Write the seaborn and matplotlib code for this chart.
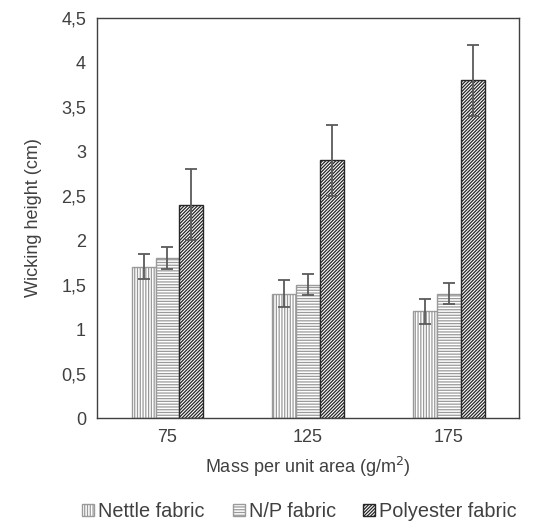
import pandas as pd
import matplotlib.pyplot as plt
import seaborn as sns

# datos
masses = ["75", "125", "175"]
fabrics = ["Nettle fabric", "N/P fabric", "Polyester fabric"]
nettle = [1.7, 1.4, 1.2]
np_fabric = [1.8, 1.5, 1.4]
polyester = [2.4, 2.9, 3.8]
nettle_err = [0.14, 0.15, 0.14]
np_err = [0.12, 0.12, 0.12]
polyester_err = [0.4, 0.4, 0.4]

values = [nettle, np_fabric, polyester]
errors = [nettle_err, np_err, polyester_err]
hatches = ["||||||", "------", "//////////"]
edges = ["#9a9a9a", "#9a9a9a", "#262626"]

df = pd.DataFrame({
    "mass": masses * 3,
    "fabric": [f for f in fabrics for _ in masses],
    "height": nettle + np_fabric + polyester,
})

sns.set_theme(style="white")
plt.rcParams["font.family"] = ["Liberation Sans", "DejaVu Sans"]
plt.rcParams["hatch.linewidth"] = 0.9
text_col = "#404040"

fig, ax = plt.subplots(figsize=(5.34, 5.24), dpi=100)
sns.barplot(data=df, x="mass", y="height", hue="fabric", order=masses,
            hue_order=fabrics, palette=["white"] * 3, width=0.51,
            errorbar=None, legend=False, ax=ax)

for cont, h, ec, err in zip(ax.containers, hatches, edges, errors):
    xs, ys = [], []
    for bar in cont:
        bar.set_hatch(h)
        bar.set_edgecolor(ec)
        bar.set_linewidth(1.0)
        xs.append(bar.get_x() + bar.get_width() / 2)
        ys.append(bar.get_height())
    ax.errorbar(xs, ys, yerr=err, fmt="none", ecolor="#5a5a5a",
                elinewidth=1.3, capsize=4.5, capthick=1.3, zorder=5)

ax.set_ylim(0, 4.5)
ax.set_xlim(-0.5, 2.5)
ticks = [i * 0.5 for i in range(10)]
ax.set_yticks(ticks)
ax.set_yticklabels([f"{t:g}".replace(".", ",") for t in ticks])
ax.tick_params(axis="both", length=0, labelsize=13, labelcolor=text_col, pad=8)
ax.set_xlabel("Mass per unit area (g/m$^2$)", fontsize=13, color=text_col, labelpad=6)
ax.set_ylabel("Wicking height (cm)", fontsize=13, color=text_col, labelpad=14)
for s in ax.spines.values():
    s.set_color("#404040")
    s.set_linewidth(1.0)

handles = list(ax.containers)
leg = ax.legend([c[0] for c in handles], fabrics, loc="upper center",
                bbox_to_anchor=(0.48, -0.165), ncol=3, frameon=False,
                fontsize=14.3, handlelength=0.6, handleheight=0.6,
                handletextpad=0.2, columnspacing=1.4)
for t in leg.get_texts():
    t.set_color(text_col)

plt.subplots_adjust(left=0.182, right=0.972, top=0.966, bottom=0.202)
plt.savefig("out.png", dpi=100)
